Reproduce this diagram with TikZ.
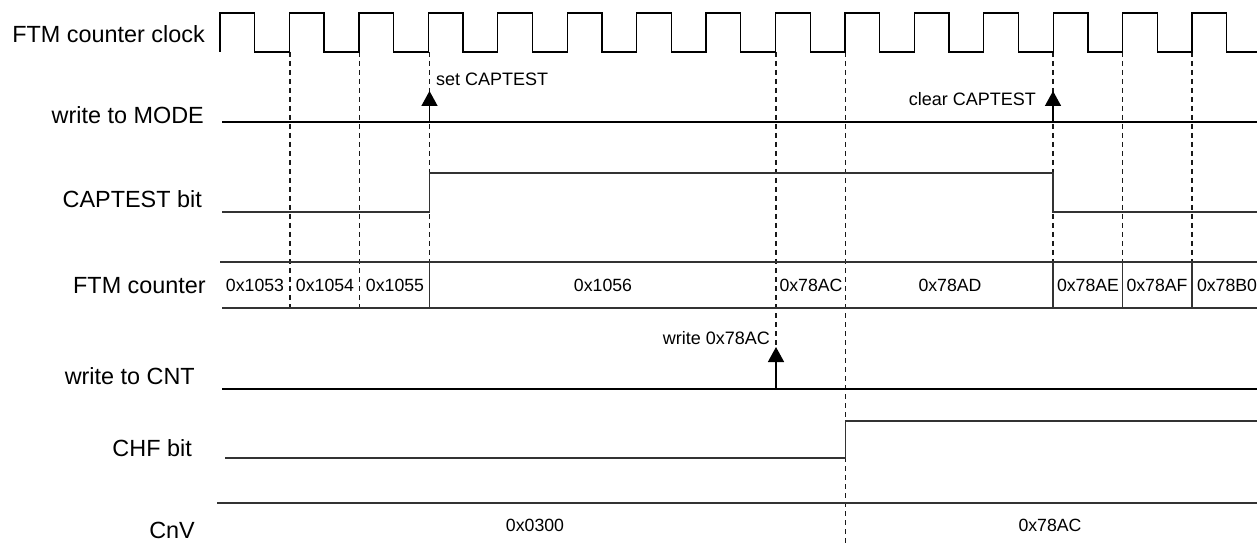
\documentclass[tikz,border=0pt]{standalone}
\usepackage{fontspec}
\setmainfont{Liberation Sans}
\usetikzlibrary{arrows.meta}
\begin{document}
\begin{tikzpicture}[x=1pt,y=-1pt,
  sig/.style={line width=1.3pt, draw=black!80},
  guide/.style={line width=1.1pt, draw=black!90, dash pattern=on 5pt off 4pt},
  lbl/.style={anchor=base east, inner sep=0pt, font=\fontsize{23.4}{28}\selectfont},
  val/.style={anchor=base, inner sep=0pt, font=\fontsize{17.7}{21}\selectfont},
  ann/.style={inner sep=0pt, font=\fontsize{18}{21}\selectfont},
  evt/.style={line width=1.5pt, draw=black, -{Triangle[length=15pt,width=16pt]}},
]
\useasboundingbox (0,0) rectangle (1257,545);

% signal names
\node[lbl] (lclk) at (205,43) {FTM counter clock};
\node[lbl] (lmode) at (204,124) {write to MODE};
\node[lbl] (lcap) at (202,208) {CAPTEST bit};
\node[lbl] (lcnt) at (206,293) {FTM counter};
\node[lbl] (lwcnt) at (195,384) {write to CNT};
\node[lbl] (lchf) at (192,456) {CHF bit};
\node[lbl] (lcnv) at (195,538) {CnV};

% dashed guide lines
\foreach \x in {290,359.5,429.5}{\draw[guide] (\x,52) -- (\x,308);}
\draw[guide] (776,52) -- (776,389);
\draw[guide] (845.5,52) -- (845.5,545);
\foreach \x in {1053,1122.5,1192}{\draw[guide] (\x,52) -- (\x,262);}

% clock
\draw[sig, draw=black] (220,52)
  \foreach \k in {0,...,14}{
    -- ({220+69.43*\k},52) -- ({220+69.43*\k},13)
    -- ({254.7+69.43*\k},13) -- ({254.7+69.43*\k},52)
  } -- (1257,52);

% write to MODE
\draw[sig, draw=black] (222,122) -- (1257,122);
\coordinate (m1b) at (429.5,122);
\coordinate (m1t) at (429.5,91);
\coordinate (m2b) at (1053,122);
\coordinate (m2t) at (1053,91);
\draw[evt] (m1b) -- (m1t);
\draw[evt] (m2b) -- (m2t);
\node[ann, anchor=base west] (setcap) at (436,86) {set CAPTEST};
\node[ann, anchor=base east] (clrcap) at (1036,106) {clear CAPTEST};

% CAPTEST bit
\draw[sig] (222,212) -- (429.5,212) -- (429.5,173) -- (1053,173) -- (1053,212) -- (1257,212);

% FTM counter
\draw[sig] (220,262) -- (1257,262);
\draw[sig] (222,308) -- (1257,308);
\foreach \x in {429.5,1053,1122.5,1192}{\draw[sig] (\x,262) -- (\x,308);}
\node[val] (c1) at (255,291) {0x1053};
\node[val] (c2) at (325,291) {0x1054};
\node[val] (c3) at (395,291) {0x1055};
\node[val] (c4) at (603,291) {0x1056};
\node[val] (c5) at (811,291) {0x78AC};
\node[val] (c6) at (950,291) {0x78AD};
\node[val] (c7) at (1088,291) {0x78AE};
\node[val] (c8) at (1157,291) {0x78AF};
\node[val] (c9) at (1227,291) {0x78B0};

% write to CNT
\draw[sig, draw=black] (222,389) -- (1257,389);
\coordinate (w1b) at (776,389);
\coordinate (w1t) at (776,347);
\draw[evt] (w1b) -- (w1t);
\node[ann, anchor=base east] (wlab) at (770,344) {write 0x78AC};

% CHF bit
\draw[sig] (225,458) -- (845.5,458) -- (845.5,421) -- (1257,421);

% CnV
\draw[sig] (217,503) -- (1257,503);
\node[val] (v1) at (535,531) {0x0300};
\node[val] (v2) at (1050,531) {0x78AC};
\end{tikzpicture}
\end{document}
